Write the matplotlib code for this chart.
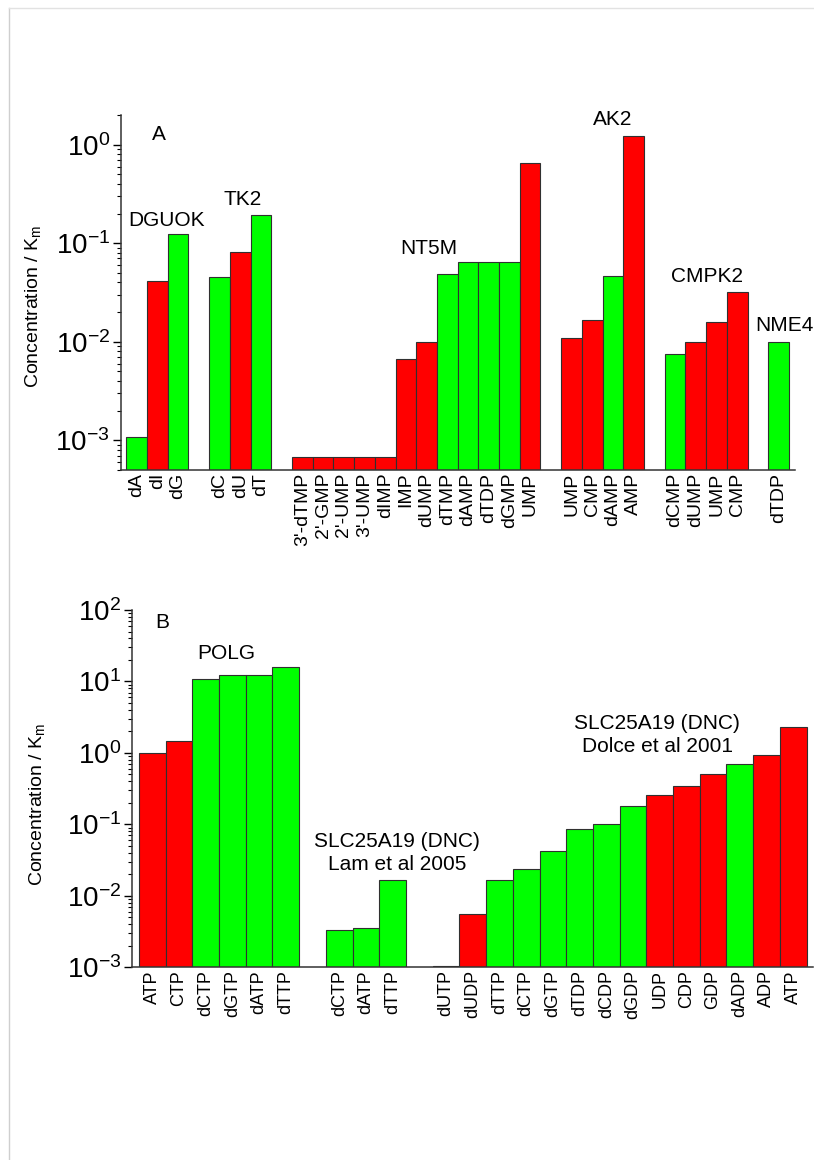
import matplotlib
matplotlib.use('Agg')
import matplotlib.pyplot as plt
from matplotlib.lines import Line2D
from matplotlib.ticker import LogLocator, NullFormatter

plt.rcParams['font.family'] = ['Liberation Sans', 'DejaVu Sans']
plt.rcParams['mathtext.fontset'] = 'custom'
plt.rcParams['mathtext.rm'] = 'Liberation Sans'
plt.rcParams['mathtext.it'] = 'Liberation Sans:italic'
plt.rcParams['mathtext.bf'] = 'Liberation Sans:bold'

# ---- panel A data (kind: 'g' = green bar, 'r' = red bar) ----
dguok_lab = ['dA', 'dI', 'dG']
dguok_val = [1.07e-3, 0.041, 0.123]
dguok_kind = ['g', 'r', 'g']

tk2_lab = ['dC', 'dU', 'dT']
tk2_val = [0.045, 0.082, 0.193]
tk2_kind = ['g', 'r', 'g']

nt5m_lab = ["3'-dTMP", "2'-GMP", "2'-UMP", "3'-UMP", 'dIMP', 'IMP', 'dUMP',
            'dTMP', 'dAMP', 'dTDP', 'dGMP', 'UMP']
nt5m_val = [6.7e-4, 6.7e-4, 6.7e-4, 6.7e-4, 6.7e-4, 6.7e-3, 0.0099,
            0.049, 0.065, 0.065, 0.065, 0.653]
nt5m_kind = ['r', 'r', 'r', 'r', 'r', 'r', 'r', 'g', 'g', 'g', 'g', 'r']

ak2_lab = ['UMP', 'CMP', 'dAMP', 'AMP']
ak2_val = [0.011, 0.0165, 0.047, 1.23]
ak2_kind = ['r', 'r', 'g', 'r']

cmpk2_lab = ['dCMP', 'dUMP', 'UMP', 'CMP']
cmpk2_val = [0.0076, 0.0099, 0.0159, 0.0318]
cmpk2_kind = ['g', 'r', 'r', 'r']

nme4_lab = ['dTDP']
nme4_val = [0.0099]
nme4_kind = ['g']

# ---- panel B data ----
polg_lab = ['ATP', 'CTP', 'dCTP', 'dGTP', 'dATP', 'dTTP']
polg_val = [1.0, 1.49, 11.0, 12.3, 12.3, 15.8]
polg_kind = ['r', 'r', 'g', 'g', 'g', 'g']

lam_lab = ['dCTP', 'dATP', 'dTTP']
lam_val = [3.28e-3, 3.6e-3, 0.0164]
lam_kind = ['g', 'g', 'g']

dolce_lab = ['dUTP', 'dUDP', 'dTTP', 'dCTP', 'dGTP', 'dTDP', 'dCDP', 'dGDP',
             'UDP', 'CDP', 'GDP', 'dADP', 'ADP', 'ATP']
dolce_val = [1.04e-3, 5.5e-3, 0.0166, 0.0234, 0.043, 0.085, 0.0997, 0.18,
             0.259, 0.35, 0.50, 0.71, 0.94, 2.34]
dolce_kind = ['r', 'r', 'g', 'g', 'g', 'g', 'g', 'g',
              'r', 'r', 'r', 'g', 'r', 'r']

COLORS = {'g': '#00ff00', 'r': '#ff0000'}


def layout(groups):
    # one empty slot between groups
    xs, labs, vals, cols = [], [], [], []
    pos = 0
    for lab, val, kind in groups:
        for l, v, k in zip(lab, val, kind):
            xs.append(pos)
            labs.append(l)
            vals.append(v)
            cols.append(COLORS[k])
            pos += 1
        pos += 1
    return xs, labs, vals, cols


def draw(ax, groups, ylim, xpad, tick_fs, lab_fs):
    xs, labs, vals, cols = layout(groups)
    ax.set_yscale('log')
    ax.bar(xs, vals, width=1.0, bottom=1e-6, color=cols,
           edgecolor='#303030', linewidth=0.8)
    ax.set_ylim(*ylim)
    ax.set_xlim(xpad[0], xs[-1] + xpad[1])
    ax.set_xticks(xs)
    ax.set_xticklabels(labs, rotation=90, fontsize=lab_fs)
    ax.tick_params(axis='x', length=0, pad=2)
    ax.yaxis.set_major_locator(LogLocator(base=10, numticks=12))
    ax.yaxis.set_minor_locator(LogLocator(base=10, subs=range(2, 10), numticks=12))
    ax.yaxis.set_minor_formatter(NullFormatter())
    ax.tick_params(axis='y', which='major', length=6, width=1.0,
                   labelsize=tick_fs, pad=2)
    ax.tick_params(axis='y', which='minor', length=3, width=0.8)
    for s in ['top', 'right']:
        ax.spines[s].set_visible(False)
    for s in ['left', 'bottom']:
        ax.spines[s].set_linewidth(1.1)
        ax.spines[s].set_color('#333333')
    ax.set_ylabel('Concentration / K$_{\\mathrm{m}}$', fontsize=14)


W, H = 814, 1160
fig = plt.figure(figsize=(W / 100, H / 100), dpi=100)

axA = fig.add_axes([121 / W, 1 - 470 / H, 674 / W, 355 / H])
draw(axA, [(dguok_lab, dguok_val, dguok_kind), (tk2_lab, tk2_val, tk2_kind),
           (nt5m_lab, nt5m_val, nt5m_kind), (ak2_lab, ak2_val, ak2_kind),
           (cmpk2_lab, cmpk2_val, cmpk2_kind), (nme4_lab, nme4_val, nme4_kind)],
     (5e-4, 2), (-0.756, 0.79), 20, 14)
axA.yaxis.set_label_coords(-78 / 674, 0.46)

annA = [('A', 0.056, 0.946), ('DGUOK', 0.068, 0.704), ('TK2', 0.180, 0.763),
        ('NT5M', 0.457, 0.625), ('AK2', 0.730, 0.986),
        ('CMPK2', 0.870, 0.546), ('NME4', 0.984, 0.406)]
for txt, x, y in annA:
    axA.text(x, y, txt, transform=axA.transAxes, ha='center', va='center',
             fontsize=15, clip_on=False)

axB = fig.add_axes([132.3 / W, 1 - 967.3 / H, 680.7 / W, 357.3 / H])
draw(axB, [(polg_lab, polg_val, polg_kind), (lam_lab, lam_val, lam_kind),
           (dolce_lab, dolce_val, dolce_kind)],
     (1e-3, 1e2), (-0.75, 0.74), 20, 13)
axB.yaxis.set_label_coords(-0.125, 0.457)

annB = [('B', 0.0436, 0.964), ('POLG', 0.138, 0.877),
        ('SLC25A19 (DNC)\nLam et al 2005', 0.389, 0.319),
        ('SLC25A19 (DNC)\nDolce et al 2001', 0.771, 0.650)]
for txt, x, y in annB:
    axB.text(x, y, txt, transform=axB.transAxes, ha='center', va='center',
             fontsize=15, linespacing=1.25, clip_on=False)

# faint page border (left and top)
fig.add_artist(Line2D([9 / W, 9 / W], [0, 1 - 8 / H], transform=fig.transFigure,
                      color='#cfcfcf', lw=1.0))
fig.add_artist(Line2D([9 / W, 1], [1 - 8 / H, 1 - 8 / H], transform=fig.transFigure,
                      color='#e2e2e2', lw=1.0))

fig.savefig('out.png', dpi=100)
